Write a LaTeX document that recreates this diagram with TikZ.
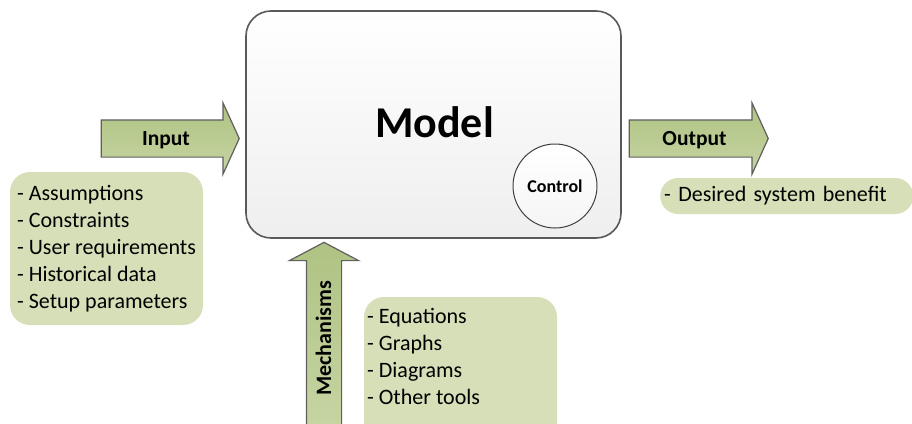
\documentclass[tikz,border=0pt]{standalone}
\usepackage{fontspec}
\setmainfont{Carlito}
\usetikzlibrary{shapes.arrows}
\definecolor{listfill}{HTML}{D7DFB9}
\definecolor{arrowtop}{HTML}{AFC383}
\definecolor{arrowbot}{HTML}{C6D4A2}
\definecolor{arrowline}{HTML}{5F5F5F}
\definecolor{modelline}{HTML}{595959}
\begin{document}
\begin{tikzpicture}[x=1pt,y=-1pt,
  flow/.style={single arrow, draw=arrowline, line width=1.2pt,
    top color=arrowtop, bottom color=arrowbot,
    single arrow head indent=0pt, inner xsep=0pt, inner ysep=0pt,
    font=\fontsize{21.5}{25}\selectfont\bfseries},
  flowh/.style={flow, single arrow head extend=17pt, single arrow tip angle=131,
    text height=24.7pt, text depth=11.3pt},
  listbox/.style={fill=listfill, rounded corners=20pt, inner sep=0pt,
    font=\fontsize{22}{27}\selectfont}
]
\useasboundingbox (0,0) rectangle (912,423);
\fill[white] (0,0) rectangle (912,423);
\clip (0,0) rectangle (912,423);

% central model block
\node[draw=modelline, line width=1.6pt, rounded corners=25pt,
      minimum width=375pt, minimum height=227pt,
      top color=white, bottom color=gray!13] (model) at (433.5,124.5) {};
\node[font=\fontsize{44}{50}\selectfont\bfseries, inner sep=0pt] (modeltitle) at (434.5,122.5) {Model};
\node[circle, draw=black!75, line width=1pt, minimum size=84pt, inner sep=0pt,
      top color=white, bottom color=gray!8,
      font=\fontsize{18}{22}\selectfont\bfseries] (control) at (555,186) {Control};

% arrows
\node[flowh, minimum height=138pt] (input) at (166,138.5) {Input};
\node[flowh, minimum height=139pt] (output) at (694.5,138.5) {Output};
\node[flow, rotate=90, minimum height=183pt, font=\fontsize{22}{26}\selectfont\bfseries,
      single arrow head extend=17pt, single arrow tip angle=124.3,
      text height=24pt, text depth=10pt] (mech) at (324,338.5) {Mechanisms};

% lists
\node[listbox, minimum width=193pt, minimum height=153pt, align=left] (inlist) at (106.5,248.5)
  {- Assumptions\\- Constraints\\- User requirements\\- Historical data\\- Setup parameters};
\node[listbox, rounded corners=18pt, anchor=west, text width=245pt, inner xsep=4pt,
      minimum height=36pt, align=left] (outlist) at (660,196) {- Desired system benefit};
\node[listbox, minimum width=193pt, minimum height=150pt] (mechbox) at (460.5,372) {};
\node[inner sep=0pt, anchor=north west, align=left, font=\fontsize{22}{27}\selectfont] (mechlist) at (367,308)
  {- Equations\\- Graphs\\- Diagrams\\- Other tools};
\end{tikzpicture}
\end{document}
